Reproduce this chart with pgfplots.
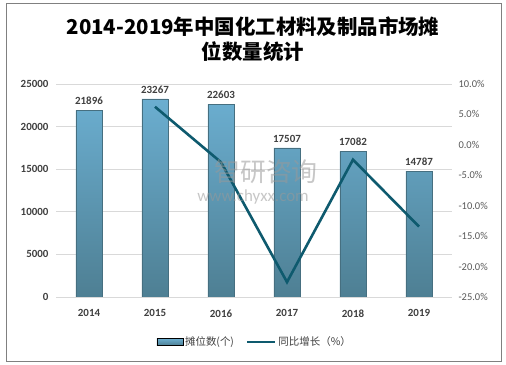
\documentclass[border=0pt]{standalone}
\usepackage{pgfplots}
\pgfplotsset{compat=1.18}
\usepackage{fontspec}
\setmainfont{Carlito}
\newfontfamily\cjk{Noto Sans CJK SC}
\definecolor{barTop}{HTML}{6BAED0}
\definecolor{barBot}{HTML}{4E7F93}
\definecolor{barEdge}{HTML}{466F80}
\definecolor{lineC}{HTML}{0E5A6E}
\definecolor{gridC}{HTML}{D9D9D9}
\definecolor{txtC}{HTML}{404040}
\begin{document}
\begin{tikzpicture}
\path[fill=white] (0,0) rectangle (506bp,365bp);
\draw[color=black!50, line width=1bp] (6bp,3.5bp) rectangle (501bp,361bp);
\node[align=center, text=black, font=\cjk\bfseries\fontsize{20.5}{25}\selectfont] at (253bp,325.5bp) {2014-2019年中国化工材料及制品市场摊\\位数量统计};
\begin{axis}[
  at={(56bp,68bp)}, anchor=south west,
  scale only axis, width=396bp, height=213bp,
  xmin=-0.5, xmax=5.5, ymin=0, ymax=25000,
  xtick={0,1,2,3,4,5},
  xticklabels={2014,2015,2016,2017,2018,2019},
  ytick={0,5000,10000,15000,20000,25000},
  scaled y ticks=false,
  /pgf/number format/1000 sep={},
  /pgf/number format/assume math mode=true,
  axis line style={draw=none},
  major tick length=0pt,
  ymajorgrids, grid style={gridC, line width=0.8bp},
  tick label style={font=\bfseries\fontsize{11}{11}\selectfont, text=txtC},
  yticklabel style={xshift=-4bp},
  xticklabel style={yshift=-9bp},
]
\addplot[ybar, bar width=26bp, draw=barEdge, line width=0.5bp, top color=barTop, bottom color=barBot,
  nodes near coords,
  every node near coord/.append style={font=\bfseries\fontsize{11}{11}\selectfont, text=txtC, yshift=2bp, /pgf/number format/1000 sep={}}]
  coordinates {(0,21896) (1,23267) (2,22603) (3,17507) (4,17082) (5,14787)};
\end{axis}
\begin{axis}[
  at={(56bp,68bp)}, anchor=south west,
  scale only axis, width=396bp, height=213bp,
  xmin=-0.5, xmax=5.5, ymin=-25, ymax=10,
  axis y line*=right, axis x line=none,
  axis line style={draw=none},
  major tick length=0pt,
  ytick={-25,-20,-15,-10,-5,0,5,10},
  /pgf/number format/assume math mode=true,
  yticklabel={\pgfmathprintnumber[fixed,fixed zerofill,precision=1]{\tick}\%},
  yticklabel style={font=\fontsize{10.5}{10.5}\selectfont, text=black!65, xshift=3bp},
  legend columns=2,
  legend style={draw=none, fill=none, at={(0.502,-0.211)}, anchor=center,
    font=\cjk\fontsize{10.5}{11}\selectfont, text=txtC,
    /tikz/every even column/.append style={column sep=10bp}},
]
\addlegendimage{legend image code/.code={\fill[top color=barTop,bottom color=barBot] (0bp,-3.5bp) rectangle (26bp,3.5bp);}}
\addlegendentry{摊位数(个)}
\addlegendimage{legend image code/.code={\draw[line width=2.5bp,lineC] (0bp,0bp) -- (28bp,0bp);}}
\addlegendentry{同比增长（\%）}
\addplot[lineC, line width=2.6bp, mark=none] coordinates {(1,6.26) (2,-2.85) (3,-22.55) (4,-2.43) (5,-13.43)};
\end{axis}
% watermark
\node[text=black!40, opacity=0.55, font=\cjk\fontsize{26}{26}\selectfont] at (266bp,193bp) {智研咨询};
\node[text=black!40, opacity=0.55, font=\fontsize{17}{17}\selectfont] at (253bp,168bp) {www.chyxx.com};
\path (0,0) rectangle (506bp,365bp);
\end{tikzpicture}
\end{document}
